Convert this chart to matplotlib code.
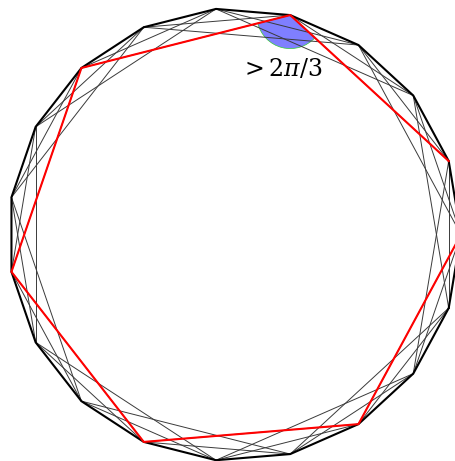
"""Regular 19-gon with its step-2 and step-3 chords and a red step-3 path."""

import matplotlib

matplotlib.use("Agg")
import matplotlib.pyplot as plt
import numpy as np
from matplotlib.patches import Wedge

n_vertices = 19
chord_steps = [2, 3]
red_path = [1, 4, 7, 10, 13, 16, 0]
angle_vertex = 4
angle_neighbours = [7, 1]
angle_label = r"$>2\pi/3$"

theta = 2 * np.pi * np.arange(n_vertices) / n_vertices
xs = np.cos(theta)
ys = np.sin(theta)

fig = plt.figure(figsize=(4.56, 4.61), dpi=100)
ax = fig.add_axes([0, 0, 1, 1])
ax.set_xlim(-1.037, 0.978)
ax.set_ylim(-1.0, 1.036)
ax.axis("off")

# chords
for step in chord_steps:
    for k in range(n_vertices):
        j = (k + step) % n_vertices
        ax.plot([xs[k], xs[j]], [ys[k], ys[j]], color="#3a3a3a", lw=0.7, zorder=2)

# outer polygon
ax.plot(np.append(xs, xs[0]), np.append(ys, ys[0]), color="black", lw=1.5, zorder=3)

# red path
ax.plot(xs[red_path], ys[red_path], color="red", lw=1.5, zorder=4)

# angle marker
v = angle_vertex
a1 = np.degrees(np.arctan2(ys[angle_neighbours[0]] - ys[v], xs[angle_neighbours[0]] - xs[v]))
a2 = np.degrees(np.arctan2(ys[angle_neighbours[1]] - ys[v], xs[angle_neighbours[1]] - xs[v]))
ax.add_patch(Wedge((xs[v], ys[v]), 0.148, a1 % 360, a2 % 360,
                   facecolor=(0, 0, 1, 0.5), edgecolor="#33cc33", lw=0.5, zorder=1))
ax.text(xs[v] - 0.04, ys[v] - 0.24, angle_label, fontsize=17, ha="center", va="center",
        math_fontfamily="dejavuserif", zorder=5)

fig.savefig("out.png", dpi=100)
